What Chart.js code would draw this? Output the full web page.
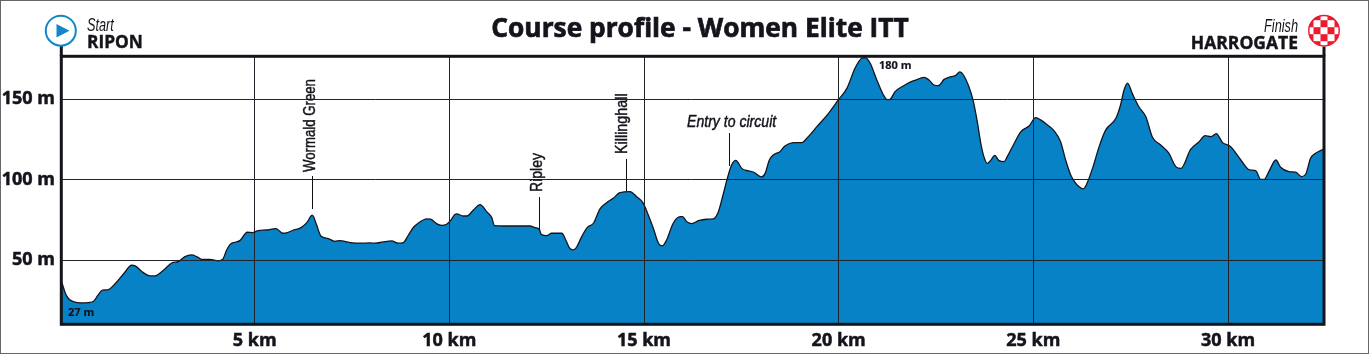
<!DOCTYPE html>
<html>
<head>
<meta charset="utf-8">
<title>Course profile - Women Elite ITT</title>
<script src="https://cdn.jsdelivr.net/npm/chart.js@4/dist/chart.umd.min.js"></script>
<style>
  html, body { margin: 0; padding: 0; background: #fff; }
  #wrap { position: relative; width: 1369px; height: 354px; box-sizing: border-box; border: 1px solid #666; overflow: hidden; }
  #profile { position: absolute; left: -1px; top: -1px; }
</style>
</head>
<body>
<div id="wrap"><canvas id="profile" width="1369" height="354"></canvas></div>
<script>
const titleText = 'Course profile - Women Elite ITT';
const kmTicks = [5, 10, 15, 20, 25, 30];
const altTicks = [50, 100, 150];

const km = [
  0.05, 0.13, 0.21, 0.34, 0.56, 0.73, 0.87, 0.98, 1.09, 1.22, 1.41, 1.63, 1.84, 1.93, 2.14, 2.31, 2.44, 2.65, 2.87, 3.04,
  3.21, 3.38, 3.51, 3.64, 3.85, 4.07, 4.18, 4.28, 4.37, 4.49, 4.62, 4.81, 4.94, 5.09, 5.31, 5.55, 5.72, 5.82, 6.0, 6.18,
  6.34, 6.48, 6.59, 6.70, 6.89, 7.06, 7.19, 7.45, 7.71, 7.96, 8.09, 8.30, 8.52, 8.69, 8.82, 8.95, 9.08, 9.2, 9.42, 9.52,
  9.67, 9.8, 9.93, 10.03, 10.15, 10.19, 10.36, 10.45, 10.62, 10.79, 10.96, 11.09, 11.16, 11.39, 11.73, 12.07, 12.2, 12.31, 12.36, 12.50,
  12.63, 12.89, 12.97, 13.08, 13.17, 13.25, 13.40, 13.54, 13.70, 13.87, 14.04, 14.21, 14.38, 14.64, 14.81, 14.97, 15.11, 15.24, 15.37, 15.47,
  15.58, 15.75, 15.93, 15.99, 16.10, 16.23, 16.4, 16.61, 16.78, 16.91, 17.04, 17.14, 17.25, 17.36, 17.51, 17.68, 17.82, 18.02, 18.11, 18.22,
  18.32, 18.49, 18.62, 18.84, 19.05, 19.22, 19.44, 19.74, 19.99, 20.21, 20.42, 20.59, 20.68, 20.81, 20.98, 21.15, 21.25, 21.32, 21.45, 21.66,
  21.81, 21.98, 22.19, 22.32, 22.45, 22.56, 22.71, 22.83, 23.01, 23.11, 23.22, 23.35, 23.45, 23.56, 23.65, 23.73, 23.82, 23.9, 24.01, 24.12,
  24.25, 24.33, 24.51, 24.68, 24.89, 25.06, 25.19, 25.36, 25.53, 25.70, 25.83, 25.96, 26.07, 26.17, 26.28, 26.36, 26.52, 26.69, 26.86, 27.12,
  27.24, 27.33, 27.42, 27.54, 27.71, 27.89, 28.06, 28.27, 28.48, 28.66, 28.79, 29.04, 29.26, 29.41, 29.56, 29.70, 29.86, 30.07, 30.33, 30.56,
  30.71, 30.84, 30.93, 31.05, 31.23, 31.35, 31.57, 31.74, 31.89, 32.0, 32.12, 32.25, 32.44
];
const altitude = [
  36.1, 30, 26.4, 24.3, 23.5, 23.7, 24.7, 28.5, 31.4, 31.6, 35.3, 41.5, 46.9, 46.5, 42.3, 40.3, 40.3, 43.6, 48.3, 49.2,
  52.3, 53.3, 52.3, 50.6, 50.6, 49.6, 50.6, 56.4, 59.9, 61.2, 62.2, 67.4, 67.2, 68.4, 68.8, 69.7, 66.8, 67, 68.8, 70.1,
  73.4, 78, 72, 65.1, 63.5, 61.8, 62.2, 61, 60.6, 60.8, 60.6, 61.4, 62, 60.6, 61, 65.7, 70.5, 73, 75.7, 75.5,
  72.8, 71.7, 72.4, 74.6, 78.6, 78.8, 77.5, 77.5, 81.3, 84.6, 80.2, 76.5, 71.5, 71.3, 71.3, 71.3, 70.3, 69.3, 66.1, 65.3,
  66.8, 66.8, 63.7, 57.9, 56.4, 57.5, 64.7, 70.3, 73, 81.9, 85.8, 88.5, 92, 92.7, 89.5, 85.8, 78.2, 69.9, 60.6, 58.9,
  62.6, 73, 77.1, 77.1, 74, 72.8, 74.6, 75.5, 75.7, 80.2, 91.6, 100.9, 109.2, 112.1, 107.1, 105.5, 104.7, 101.8, 104, 112.3,
  115.4, 117.5, 121, 123.1, 123.1, 126.8, 133, 141.3, 149.6, 156.8, 169.3, 175.5, 175.9, 172.4, 162, 152.7, 149.8, 150, 154.8, 158.3,
  160.4, 162, 163.7, 162, 158.9, 158.5, 162.4, 163.7, 164.9, 167, 164.5, 157.5, 149.6, 136.1, 122.7, 114.4, 110.2, 111.9, 115.2, 111.9,
  111.3, 114.4, 122.7, 129.9, 133.4, 138.6, 137.2, 134.1, 130.5, 123.7, 112.3, 103, 98.4, 95.8, 94.3, 96.8, 107.1, 120.6, 131, 138.2,
  146.5, 155.8, 160.1, 153.7, 145.4, 139.2, 126.4, 121.6, 116.5, 108.2, 107.1, 118.9, 123.7, 127.4, 126.8, 128.7, 123.1, 120.6, 112.3, 106.1,
  105.7, 100.3, 100.3, 105.1, 112.3, 107.8, 105.1, 104.7, 102, 103.6, 113.4, 116.5, 118.9
];

const placeNames = ['Wormald Green', 'Ripley', 'Killinghall'];
const placeKm = [6.46, 12.31, 14.54];

const INK = '#14141c';
const BLUE = '#0882c6';
const BOLD = '"Open Sans", sans-serif';
const SANS = '"Liberation Sans", sans-serif';

// squeeze = horizontal scale, there is no narrow face installed
function text(ctx, str, x, y, font, align, opts) {
  const o = opts || {};
  ctx.save();
  ctx.translate(x, y);
  if (o.rotate) ctx.rotate(o.rotate);
  ctx.scale(o.squeeze || 1, 1);
  ctx.font = font;
  ctx.textAlign = align || 'left';
  ctx.textBaseline = 'alphabetic';
  ctx.fillStyle = INK;
  ctx.fillText(str, 0, 0);
  if (o.stroke) {
    ctx.strokeStyle = INK;
    ctx.lineWidth = o.stroke;
    ctx.strokeText(str, 0, 0);
  }
  ctx.restore();
}

function vertText(ctx, str, x, y, squeeze) {
  text(ctx, str, x, y, '16.5px ' + SANS, 'left', { rotate: -Math.PI / 2, squeeze, stroke: 0.45 });
}

function leader(ctx, x, y1, y2) {
  ctx.strokeStyle = '#111';
  ctx.lineWidth = 1;
  ctx.beginPath();
  ctx.moveTo(Math.round(x) + 0.5, y1);
  ctx.lineTo(Math.round(x) + 0.5, y2);
  ctx.stroke();
}

const decorations = {
  id: 'decorations',
  afterDraw(chart) {
    const { ctx, chartArea: a, scales } = chart;
    ctx.save();

    // frame, with the two posts going up to the start and finish badges
    const fl = a.left + 1.3, fr = a.right + 1, ft = a.top - 0.7, fb = a.bottom + 0.3;
    ctx.strokeStyle = INK;
    ctx.lineWidth = 3;
    ctx.strokeRect(fl, ft, fr - fl, fb - ft);
    ctx.beginPath();
    ctx.moveTo(fl, 46);
    ctx.lineTo(fl, ft);
    ctx.moveTo(fr, 46);
    ctx.lineTo(fr, ft);
    ctx.stroke();

    text(ctx, titleText, 700, 37, 'bold 26.3px ' + BOLD, 'center', { stroke: 0.7 });

    // start badge
    ctx.beginPath();
    ctx.arc(60.8, 30.7, 15, 0, Math.PI * 2);
    ctx.fillStyle = '#fff';
    ctx.fill();
    ctx.strokeStyle = '#1287c8';
    ctx.lineWidth = 2;
    ctx.stroke();
    ctx.beginPath();
    ctx.moveTo(56.5, 24);
    ctx.lineTo(69.5, 30.7);
    ctx.lineTo(56.5, 37.5);
    ctx.closePath();
    ctx.fillStyle = '#1287c8';
    ctx.fill();
    text(ctx, 'Start', 87, 31, 'italic 19px ' + SANS, 'left', { squeeze: 0.67 });
    text(ctx, 'RIPON', 87, 47.5, 'bold 17.3px ' + BOLD, 'left', { stroke: 0.4 });

    // finish badge, checks centred on the middle of the disc
    const cx = 1324, cy = 30.7, sq = 7;
    ctx.save();
    ctx.beginPath();
    ctx.arc(cx, cy, 15.8, 0, Math.PI * 2);
    ctx.fillStyle = '#ec1c2e';
    ctx.fill();
    ctx.clip();
    ctx.fillStyle = '#fff';
    for (let r = -3; r <= 3; r++) {
      for (let c = -3; c <= 3; c++) {
        if ((r + c) % 2 === 0) ctx.fillRect(cx + c * sq - sq / 2, cy + r * sq - sq / 2, sq, sq);
      }
    }
    ctx.restore();
    ctx.beginPath();
    ctx.arc(cx, cy, 15.2, 0, Math.PI * 2);
    ctx.strokeStyle = '#ec1c2e';
    ctx.lineWidth = 1.4;
    ctx.stroke();
    text(ctx, 'Finish', 1298, 32, 'italic 19px ' + SANS, 'right', { squeeze: 0.67 });
    text(ctx, 'HARROGATE', 1298, 49, 'bold 17.5px ' + BOLD, 'right', { stroke: 0.4 });

    // place names
    const px = v => scales.x.getPixelForValue(v);
    leader(ctx, px(placeKm[0]), 176, 209);
    vertText(ctx, placeNames[0], px(placeKm[0]) + 3, 172, 0.8);
    leader(ctx, px(placeKm[1]), 197, 229);
    vertText(ctx, placeNames[1], px(placeKm[1]) + 2.5, 192, 0.85);
    leader(ctx, px(placeKm[2]), 159, 191);
    vertText(ctx, placeNames[2], px(placeKm[2]) + 1, 154, 0.87);

    leader(ctx, 728.5, 133, 166);
    text(ctx, 'Entry to circuit', 687, 126.5, 'italic 16px ' + SANS, 'left', { squeeze: 0.88, stroke: 0.45 });

    text(ctx, '27 m', 68, 316, 'bold 11px ' + BOLD, 'left', { stroke: 0.2 });
    text(ctx, '180 m', 879, 69, 'bold 11px ' + BOLD, 'left', { stroke: 0.2 });

    ctx.restore();
  }
};

new Chart(document.getElementById('profile').getContext('2d'), {
  type: 'line',
  data: {
    datasets: [{
      data: km.map((k, i) => ({ x: k, y: altitude[i] })),
      borderColor: INK,
      borderWidth: 1.3,
      backgroundColor: BLUE,
      fill: 'origin',
      cubicInterpolationMode: 'monotone',
      pointRadius: 0
    }]
  },
  options: {
    responsive: false,
    animation: false,
    events: [],
    parsing: false,
    layout: { padding: { left: 0, right: 46, top: 57, bottom: 0 } },
    plugins: {
      legend: { display: false },
      tooltip: { enabled: false }
    },
    scales: {
      x: {
        type: 'linear',
        min: 0,
        max: 32.44,
        afterBuildTicks: s => { s.ticks = kmTicks.map(v => ({ value: v })); },
        afterFit: s => { s.height = 30; },
        border: { display: false },
        grid: { color: '#23232b', lineWidth: 1, z: 1, drawTicks: false },
        ticks: {
          autoSkip: false,
          maxRotation: 0,
          padding: 6,
          color: INK,
          textStrokeColor: INK,
          textStrokeWidth: 0.5,
          font: { family: 'Open Sans', weight: 'bold', size: 18 },
          callback: v => v + ' km'
        }
      },
      y: {
        min: 10.4,
        max: 176.3,
        afterBuildTicks: s => { s.ticks = altTicks.map(v => ({ value: v })); },
        afterFit: s => { s.width = 60; },
        border: { display: false },
        grid: { color: '#23232b', lineWidth: 1, z: 1, drawTicks: false },
        ticks: {
          autoSkip: false,
          padding: 5,
          color: INK,
          textStrokeColor: INK,
          textStrokeWidth: 0.5,
          font: { family: 'Open Sans', weight: 'bold', size: 18 },
          callback: v => v + ' m'
        }
      }
    }
  },
  plugins: [decorations]
});
</script>
</body>
</html>
